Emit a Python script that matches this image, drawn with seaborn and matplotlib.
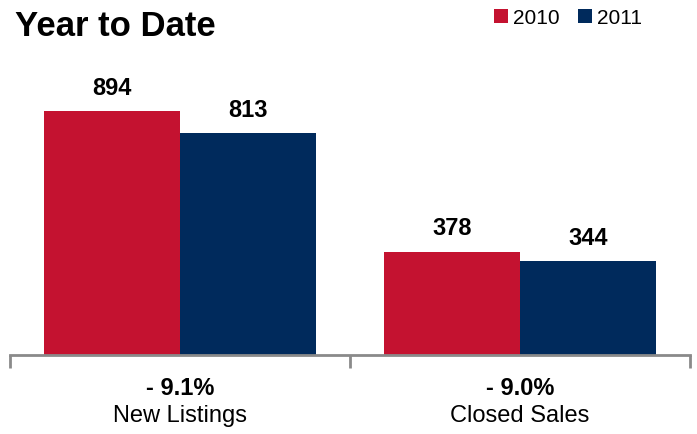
import numpy as np
import pandas as pd
import matplotlib.pyplot as plt
import seaborn as sns

categories = ["New Listings", "Closed Sales"]
years = ["2010", "2011"]
values_2010 = [894, 378]
values_2011 = [813, 344]
pct_labels = ["- 9.1%", "- 9.0%"]

colors = {"2010": "#C41230", "2011": "#002A5C"}

df = pd.DataFrame({
    "category": categories * 2,
    "year": [years[0]] * 2 + [years[1]] * 2,
    "value": values_2010 + values_2011,
})

sns.set_style("white")
plt.rcParams["font.family"] = ["Liberation Sans", "DejaVu Sans"]
plt.rcParams["text.color"] = "black"
narrow = ["Liberation Sans Narrow", "Liberation Sans", "DejaVu Sans"]

fig = plt.figure(figsize=(6.97, 4.35), dpi=100)
ax = fig.add_axes([10 / 697, 1 - 356 / 435, 680 / 697, 300 / 435])

sns.barplot(data=df, x="category", y="value", hue="year", order=categories,
            hue_order=years, palette=colors, width=0.8, saturation=1,
            edgecolor="none", ax=ax)

for cont in ax.containers:
    ax.bar_label(cont, fmt="%d", padding=9, fontsize=17, fontweight="bold",
                 color="black")

ax.set_xlim(-0.5, 1.5)
ax.set_ylim(0, 1100)
ax.set_xlabel("")
ax.set_ylabel("")
ax.set_yticks([])
ax.set_xticks([-0.5, 0.5, 1.5])
ax.set_xticklabels([])
ax.tick_params(axis="x", direction="out", length=9, width=2, color="#8a8a8a", bottom=True)
for s in ["top", "left", "right"]:
    ax.spines[s].set_visible(False)
ax.spines["bottom"].set_color("#8a8a8a")
ax.spines["bottom"].set_linewidth(2)

trans = ax.get_xaxis_transform()
for i, (cat, pct) in enumerate(zip(categories, pct_labels)):
    ax.text(i, -0.107, pct, transform=trans, ha="center", va="center",
            fontsize=17, fontweight="bold", family=narrow, color="black")
    ax.text(i, -0.20, cat, transform=trans, ha="center", va="center",
            fontsize=17, family=narrow, color="black")

fig.text(15 / 697, 1 - 27 / 435, "Year to Date", ha="left", va="center",
         fontsize=25, fontweight="bold", family=narrow, color="black")

leg = ax.legend(loc="upper right", bbox_to_anchor=(651 / 697, 1.0),
                bbox_transform=fig.transFigure, ncol=2, frameon=False,
                borderaxespad=0.05, handlelength=0.7, handleheight=0.7,
                handletextpad=0.2, columnspacing=0.9, prop={"size": 15})
for t in leg.get_texts():
    t.set_color("black")

fig.savefig("out.png", dpi=100)
